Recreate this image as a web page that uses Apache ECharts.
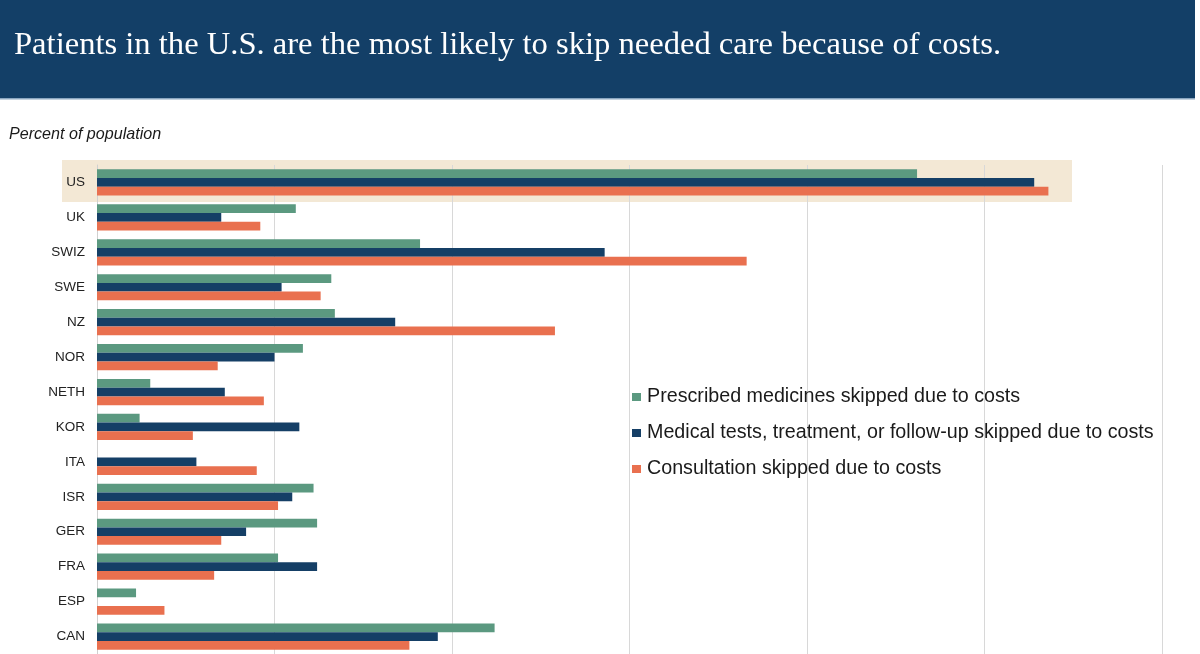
<!DOCTYPE html>
<html lang="en">
<head>
  <meta charset="UTF-8">
  <title>Skipped care because of costs</title>
  <style type="text/css">
    html, body { margin: 0; padding: 0; background: #fff; }
    #chart { width: 1200px; height: 654px; }
  </style>
</head>
<body>
  <div id="chart"></div>
  <script src="https://cdn.jsdelivr.net/npm/echarts@6/dist/echarts.min.js"></script>
  <script>
    // countries, top to bottom
    const countries = ['US', 'UK', 'SWIZ', 'SWE', 'NZ', 'NOR', 'NETH', 'KOR', 'ITA', 'ISR', 'GER', 'FRA', 'ESP', 'CAN']

    // percent of population
    const medicines = [23.1, 5.6, 9.1, 6.6, 6.7, 5.8, 1.5, 1.2, 0, 6.1, 6.2, 5.1, 1.1, 11.2]
    const tests = [26.4, 3.5, 14.3, 5.2, 8.4, 5.0, 3.6, 5.7, 2.8, 5.5, 4.2, 6.2, 0, 9.6]
    const consultation = [26.8, 4.6, 18.3, 6.3, 12.9, 3.4, 4.7, 2.7, 4.5, 5.1, 3.5, 3.3, 1.9, 8.8]

    const seriesNames = [
      'Prescribed medicines skipped due to costs',
      'Medical tests, treatment, or follow-up skipped due to costs',
      'Consultation skipped due to costs'
    ]
    const colors = ['#5b9980', '#153f66', '#e9704f']

    const chart = echarts.init(document.getElementById('chart'))

    const makeSeries = (name, data, color) => ({
      name,
      type: 'bar',
      data,
      barGap: '0%',
      barCategoryGap: '25%',
      itemStyle: { color },
      emphasis: { disabled: true }
    })

    const option = {
      animation: false,
      title: {
        text: 'Patients in the U.S. are the most likely to skip needed care because of costs.',
        left: 14,
        top: 29,
        padding: 0,
        textStyle: {
          color: '#ffffff',
          fontFamily: 'Liberation Serif',
          fontWeight: 'normal',
          fontSize: 32.6
        }
      },
      graphic: [
        {
          type: 'rect',
          z: -10,
          shape: { x: 0, y: 0, width: 1195, height: 98 },
          style: { fill: '#133f67' }
        },
        {
          type: 'rect',
          z: -10,
          shape: { x: 0, y: 98, width: 1195, height: 1.5 },
          style: { fill: '#8aa6c0' }
        },
        {
          type: 'rect',
          z: -10,
          shape: { x: 62, y: 160, width: 1010, height: 42 },
          style: { fill: '#f3e8d5' }
        },
        {
          type: 'text',
          left: 9,
          top: 126.5,
          style: {
            text: 'Percent of population',
            fill: '#1a1a1a',
            font: 'italic 16.1px "Liberation Sans", Arial, sans-serif'
          }
        }
      ],
      legend: {
        orient: 'vertical',
        left: 632,
        top: 387,
        padding: 0,
        itemWidth: 9,
        itemHeight: 8,
        itemGap: 16,
        icon: 'rect',
        textStyle: {
          color: '#1a1a1a',
          fontFamily: 'Liberation Sans',
          fontSize: 19.7,
          padding: [0, 0, 0, 1]
        },
        data: seriesNames
      },
      grid: {
        left: 97,
        right: 38,
        top: 165,
        bottom: 0,
        containLabel: false
      },
      xAxis: {
        type: 'value',
        min: 0,
        max: 30,
        interval: 5,
        axisLabel: { show: false },
        axisLine: { show: false },
        axisTick: { show: false },
        splitLine: { lineStyle: { color: '#d8d8d8', width: 1 } }
      },
      yAxis: {
        type: 'category',
        inverse: true,
        data: countries,
        axisTick: { show: false },
        axisLine: { lineStyle: { color: '#d0d0d0', width: 1 } },
        axisLabel: {
          margin: 12,
          color: '#222',
          fontFamily: 'Liberation Sans',
          fontSize: 13.5
        }
      },
      series: [
        makeSeries(seriesNames[0], medicines, colors[0]),
        makeSeries(seriesNames[1], tests, colors[1]),
        makeSeries(seriesNames[2], consultation, colors[2])
      ]
    }

    chart.setOption(option)
  </script>
</body>
</html>
